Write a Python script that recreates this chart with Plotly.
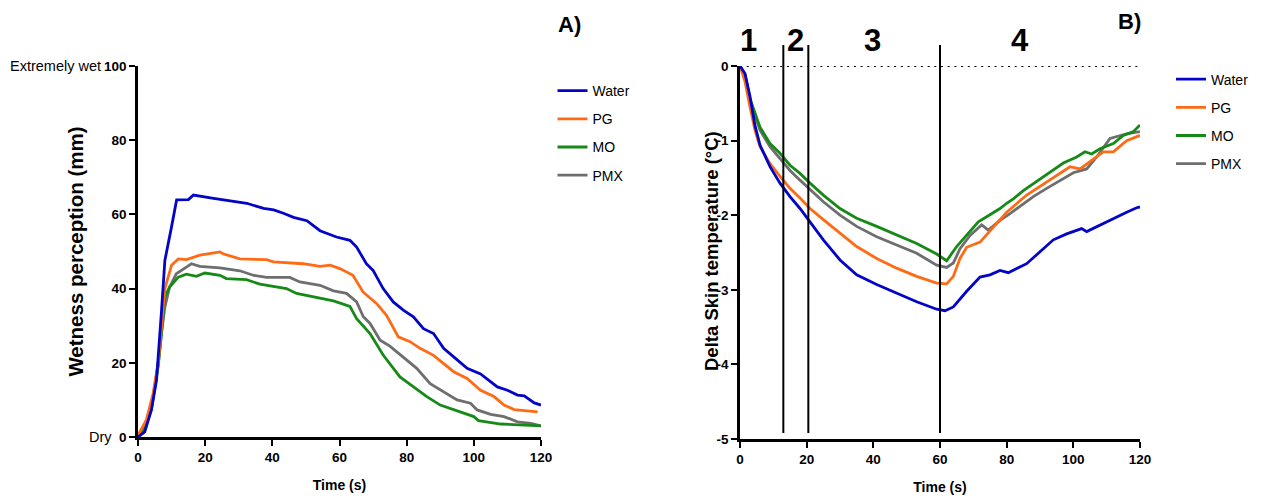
import plotly.graph_objects as go

# ---------------- Panel A: wetness perception (mm) over time (s) ----------------
wet_water_t = [0, 2, 4, 5.5, 7, 8, 10, 11.5, 15, 16.5, 22.5, 25.4, 28.4, 32.4, 37.4, 40.4, 43.3,
               46.3, 50.3, 54.2, 59.1, 63.1, 65.1, 68, 70, 73, 76, 79, 82, 85, 88, 91, 94, 98,
               102, 107, 110, 113, 115, 118, 120]
wet_water_v = [0, 1.4, 7.3, 15.3, 34, 47.6, 56.7, 63.9, 64, 65.2, 64.3, 63.9, 63.4, 63, 61.6, 61.2,
               60.3, 59.2, 58.3, 55.6, 53.9, 53, 51.2, 46.7, 44.9, 40, 36.4, 34.2, 32.4, 29.2, 27.9,
               23.9, 21.6, 18.5, 17, 13.5, 12.6, 11.3, 11.1, 9.2, 8.6]

wet_pg_t = [0, 2.5, 4.5, 6, 7, 8, 10, 12, 14.4, 18.4, 24.4, 25.3, 30.3, 38.3, 40.3, 49.2, 54.2,
            57.2, 60.1, 64, 67, 71, 74, 77.5, 81, 84, 88, 91, 94, 98, 102, 106, 109, 112, 119]
wet_pg_v = [0.5, 4.6, 11.7, 20, 30, 40, 46.3, 48, 47.8, 49, 49.9, 49.4, 48, 47.8, 47.2, 46.7, 46,
            46.3, 45.4, 43.6, 39.1, 36, 32.8, 27, 25.7, 23.9, 22, 19.8, 17.6, 15.8, 12.6, 10.9,
            8.6, 7.4, 6.8]

wet_mo_t = [0, 2, 4, 6, 7, 8, 9.4, 12, 14.4, 17.4, 19.9, 24.4, 26.3, 32.3, 36.3, 44.2, 47.2, 54.2,
            58.2, 63.1, 65.1, 69.1, 73, 78, 82, 86, 90, 94, 100, 101.4, 108, 120]
wet_mo_v = [0, 2.5, 7.5, 19, 28, 37.8, 40.4, 43.1, 43.9, 43.3, 44.2, 43.6, 42.7, 42.4, 41.2, 40,
            38.7, 37.3, 36.7, 35.2, 31.9, 27.9, 22.1, 16.2, 13.5, 10.9, 8.6, 7.3, 5.5, 4.4, 3.5, 3]

wet_pmx_t = [0, 2, 4, 6, 7, 8, 9.4, 11.4, 14.4, 15.9, 18.4, 24.4, 30.3, 34.3, 38.3, 45.2, 48.2,
             54.2, 58.2, 62.1, 65.1, 67.1, 69.1, 72.1, 75, 79, 83, 87, 91, 95, 99, 101, 105, 109,
             113, 117, 120]
wet_pmx_v = [0, 2.8, 8, 19.5, 28, 35, 40.4, 44, 45.8, 46.7, 46, 45.6, 44.8, 43.6, 43, 43, 41.8,
             40.9, 39.4, 38.7, 36.4, 32.4, 30.6, 26.1, 24.5, 21.6, 18.5, 14.4, 12.2, 10, 9.1, 7.3,
             6.1, 5.5, 4.1, 3.7, 3]

# ---------------- Panel B: delta skin temperature (°C) over time (s) ----------------
sk_water_t = [0, 1.5, 3, 4.5, 6, 9, 12, 15, 18, 21, 25, 30, 35, 41, 47, 53, 59, 61.5, 64, 68,
              72, 75, 78, 80.5, 86, 90, 94, 98, 102.5, 104, 108, 112, 116, 119, 120]
sk_water_v = [0, -0.10, -0.41, -0.80, -1.06, -1.35, -1.57, -1.75, -1.91, -2.09, -2.33, -2.60,
              -2.80, -2.93, -3.05, -3.16, -3.26, -3.28, -3.23, -3.02, -2.83, -2.80, -2.74, -2.77,
              -2.65, -2.49, -2.33, -2.25, -2.18, -2.22, -2.13, -2.04, -1.96, -1.90, -1.89]

sk_pg_t = [0, 1.5, 3, 4.5, 6, 9, 12, 15, 18, 21, 25, 30, 35, 41, 47, 53, 59, 62, 64, 66, 68, 72,
           76, 80, 86, 91, 95, 99, 102, 106, 109, 112, 116, 120]
sk_pg_v = [0, -0.21, -0.55, -0.86, -1.08, -1.31, -1.48, -1.64, -1.77, -1.91, -2.06, -2.24, -2.42,
           -2.58, -2.71, -2.82, -2.91, -2.92, -2.82, -2.58, -2.43, -2.36, -2.16, -1.96, -1.73,
           -1.58, -1.46, -1.35, -1.38, -1.25, -1.15, -1.15, -1.00, -0.93]

sk_mo_t = [0, 1.5, 3, 6, 9, 12, 15, 18, 21, 25, 30, 35, 41, 47, 53, 59, 62, 65, 67.5, 71.5, 74,
           78, 80, 82, 85, 88, 92, 97, 101, 103.5, 105.5, 108, 112, 115, 118, 120]
sk_mo_v = [0, -0.12, -0.44, -0.82, -1.04, -1.17, -1.33, -1.44, -1.57, -1.73, -1.91, -2.04, -2.15,
           -2.26, -2.38, -2.52, -2.61, -2.42, -2.29, -2.09, -2.02, -1.91, -1.84, -1.78, -1.67,
           -1.58, -1.46, -1.30, -1.22, -1.15, -1.18, -1.11, -1.04, -0.93, -0.88, -0.79]

sk_pmx_t = [0, 1.5, 3, 6, 9, 12, 15, 18, 21, 25, 30, 35, 41, 47, 53, 59, 62, 64, 66, 69, 72.5,
            74.5, 78, 81, 85, 88, 92, 97, 100, 104, 107, 111, 116, 120]
sk_pmx_v = [0, -0.12, -0.46, -0.86, -1.08, -1.24, -1.40, -1.53, -1.66, -1.82, -2.00, -2.15, -2.29,
            -2.40, -2.51, -2.67, -2.70, -2.64, -2.45, -2.27, -2.13, -2.20, -2.07, -1.98, -1.85,
            -1.75, -1.64, -1.51, -1.43, -1.38, -1.22, -0.97, -0.91, -0.88]

series_names = ["Water", "PG", "MO", "PMX"]
series_colors = ["#0404c8", "#ff6a14", "#168a16", "#6e6e6e"]

wet_series = [(wet_water_t, wet_water_v), (wet_pg_t, wet_pg_v),
              (wet_mo_t, wet_mo_v), (wet_pmx_t, wet_pmx_v)]
skin_series = [(sk_water_t, sk_water_v), (sk_pg_t, sk_pg_v),
               (sk_mo_t, sk_mo_v), (sk_pmx_t, sk_pmx_v)]

# axis ticks
time_ticks = [0, 20, 40, 60, 80, 100, 120]
wet_ticks = [0, 20, 40, 60, 80, 100]
skin_ticks = [-5, -4, -3, -2, -1, 0]
skin_tick_text = ["-5", "-4", "-3", "-2", "-1", "0"]

# phase boundaries (s) and phase labels in panel B
phase_bounds = [13, 20.5, 60]
phase_labels = ["1", "2", "3", "4"]
phase_label_x = [2.4, 16.5, 39.6, 84]

FONT = "Liberation Sans, Arial, sans-serif"
W, H = 1263, 498

fig = go.Figure()

# traces are added PMX first so Water is drawn on top; legendrank keeps Water first in legends
for i in reversed(range(4)):
    t, v = wet_series[i]
    fig.add_trace(go.Scatter(x=t, y=v, mode="lines", name=series_names[i],
                             line=dict(color=series_colors[i], width=2.8),
                             xaxis="x", yaxis="y", legend="legend",
                             legendgroup="a%d" % i, legendrank=i + 1))
for i in reversed(range(4)):
    t, v = skin_series[i]
    fig.add_trace(go.Scatter(x=t, y=v, mode="lines", name=series_names[i],
                             line=dict(color=series_colors[i], width=2.8),
                             xaxis="x2", yaxis="y2", legend="legend2",
                             legendgroup="b%d" % i, legendrank=i + 1))

def px_x(p):
    return p / W

def px_y(p):
    return (H - p) / H

axis_common = dict(
    showline=True, linecolor="black", linewidth=2.6, mirror=False,
    ticks="outside", ticklen=6, tickwidth=2.4, tickcolor="black",
    showgrid=False, zeroline=False, automargin=False,
    tickfont=dict(family=FONT, size=13.5, color="black", weight="bold"),
)

shapes = []
for b in phase_bounds:
    shapes.append(dict(type="line", xref="x2", yref="paper", x0=b, x1=b,
                       y0=px_y(433), y1=px_y(45), line=dict(color="black", width=2)))
shapes.append(dict(type="line", xref="x2", yref="y2", x0=0, x1=120, y0=0, y1=0,
                   line=dict(color="black", width=1.8, dash="2px,4.7px"), layer="below"))

annotations = []
for lab, lx in zip(phase_labels, phase_label_x):
    annotations.append(dict(text=lab, x=lx, y=px_y(40), xref="x2", yref="paper",
                            showarrow=False, xanchor="center", yanchor="middle",
                            font=dict(family=FONT, size=31, color="black", weight="bold")))
annotations += [
    dict(text="A)", x=px_x(569), y=px_y(25), xref="paper", yref="paper", showarrow=False,
         xanchor="center", yanchor="middle",
         font=dict(family=FONT, size=22, color="black", weight="bold")),
    dict(text="B)", x=px_x(1129), y=px_y(22), xref="paper", yref="paper", showarrow=False,
         xanchor="center", yanchor="middle",
         font=dict(family=FONT, size=22, color="black", weight="bold")),
    dict(text="Extremely wet", x=px_x(103), y=100, xref="paper", yref="y", showarrow=False,
         xanchor="right", yanchor="middle",
         font=dict(family=FONT, size=14.5, color="black")),
    dict(text="Dry", x=px_x(114), y=0, xref="paper", yref="y", showarrow=False,
         xanchor="right", yanchor="middle",
         font=dict(family=FONT, size=14.5, color="black")),
    # y-axis title of panel B, set close to its tick labels
    dict(text="Delta Skin temperature (°C)", x=px_x(711), y=px_y(251), xref="paper", yref="paper",
         showarrow=False, textangle=-90, xanchor="center", yanchor="middle",
         font=dict(family=FONT, size=18.5, color="black", weight="bold")),
]

legend_common = dict(
    bgcolor="rgba(0,0,0,0)", borderwidth=0,
    font=dict(family=FONT, size=14, color="black"),
    tracegroupgap=7, itemwidth=30, traceorder="grouped",
    xanchor="left", yanchor="top",
)

fig.update_layout(
    width=W, height=H,
    margin=dict(l=0, r=0, t=0, b=0, autoexpand=False),
    paper_bgcolor="white", plot_bgcolor="white",
    showlegend=True,
    xaxis=dict(domain=[px_x(138), px_x(541)], range=[0, 120], tickvals=time_ticks,
               anchor="y",
               title=dict(text="Time (s)", standoff=17,
                          font=dict(family=FONT, size=14, color="black", weight="bold")),
               **axis_common),
    yaxis=dict(domain=[px_y(437), px_y(66)], range=[0, 100], tickvals=wet_ticks,
               anchor="x",
               title=dict(text="Wetness perception (mm)", standoff=15,
                          font=dict(family=FONT, size=20.5, color="black", weight="bold")),
               **axis_common),
    xaxis2=dict(domain=[px_x(740), px_x(1140)], range=[0, 120], tickvals=time_ticks,
                anchor="y2",
                title=dict(text="Time (s)", standoff=17,
                           font=dict(family=FONT, size=14, color="black", weight="bold")),
                **axis_common),
    yaxis2=dict(domain=[px_y(439), px_y(66)], range=[-5, 0], tickvals=skin_ticks,
                ticktext=skin_tick_text, anchor="x2",
                **axis_common),
    legend=dict(x=px_x(552.5), y=px_y(75), **legend_common),
    legend2=dict(x=px_x(1171), y=px_y(63.5), **legend_common),
    shapes=shapes,
    annotations=annotations,
)

fig.write_html("out.html")
